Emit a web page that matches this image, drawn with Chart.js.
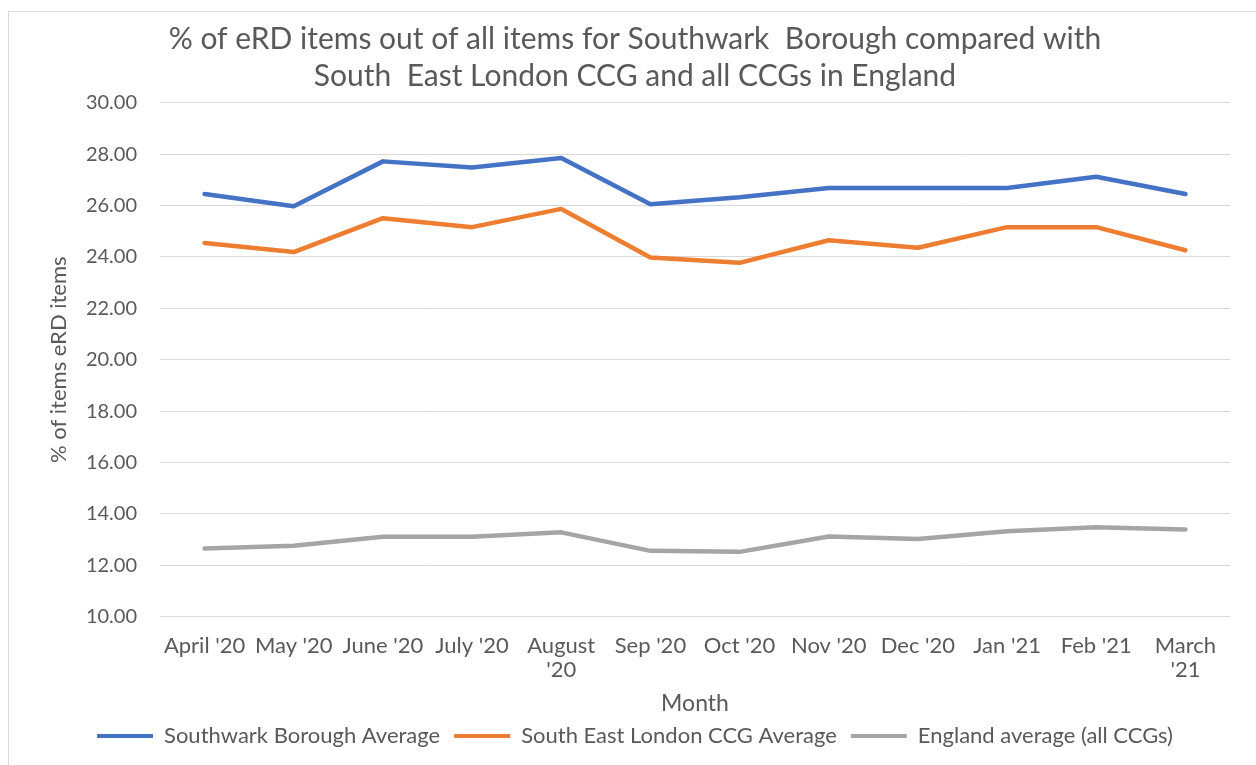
<!DOCTYPE html>
<html>
<head>
<meta charset="utf-8">
<script src="https://cdn.jsdelivr.net/npm/chart.js@4"></script>
<style>
  body { margin: 0; background: #fff; }
  #wrap { position: relative; width: 1256px; height: 765px; }
  #frame { position: absolute; left: 8px; top: 11px; right: 0; bottom: 0; border-left: 1px solid #d9d9d9; border-top: 1px solid #d9d9d9; pointer-events: none; }
</style>
</head>
<body>
<div id="wrap">
  <canvas id="grafico" width="1256" height="765"></canvas>
  <div id="frame"></div>
</div>
<script>
const months = ["April '20", "May '20", "June '20", "July '20", ["August", "'20"], "Sep '20",
  "Oct '20", "Nov '20", "Dec '20", "Jan '21", "Feb '21", ["March", "'21"]];
const southwark = [26.45, 25.97, 27.72, 27.48, 27.85, 26.05, 26.32, 26.68, 26.68, 26.68, 27.12, 26.45];
const seLondon = [24.54, 24.19, 25.51, 25.16, 25.87, 23.98, 23.77, 24.65, 24.36, 25.16, 25.16, 24.26];
const england = [12.65, 12.76, 13.11, 13.11, 13.28, 12.56, 12.52, 13.12, 13.02, 13.32, 13.48, 13.39];
const yTicks = [10, 12, 14, 16, 18, 20, 22, 24, 26, 28, 30];

const txt = '#595959';
const fam = 'Lato, "Open Sans", sans-serif';

const ctx = document.getElementById('grafico');

new Chart(ctx, {
  type: 'line',
  data: {
    labels: months,
    datasets: [{
      label: 'Southwark Borough Average',
      data: southwark,
      borderColor: '#4472C4',
      backgroundColor: '#4472C4'
    }, {
      label: 'South East London CCG Average',
      data: seLondon,
      borderColor: '#ED7D31',
      backgroundColor: '#ED7D31'
    }, {
      label: 'England average (all CCGs)',
      data: england,
      borderColor: '#A5A5A5',
      backgroundColor: '#A5A5A5'
    }]
  },
  options: {
    responsive: false,
    animation: false,
    layout: { padding: { top: 21, left: 40, right: 26, bottom: 8 } },
    elements: {
      line: { borderWidth: 4.5, tension: 0, borderJoinStyle: 'round', borderCapStyle: 'round' },
      point: { radius: 0 }
    },
    scales: {
      x: {
        offset: true,
        grid: { display: false, drawTicks: false },
        border: { display: false },
        ticks: { color: txt, font: { family: fam, size: 22, lineHeight: 1.1 }, maxRotation: 0, autoSkip: false, padding: 17 },
        title: { display: true, text: 'Month', color: txt, font: { family: fam, size: 23, lineHeight: 1 }, padding: { top: -7, bottom: -4 } }
      },
      y: {
        min: 10,
        max: 30,
        afterBuildTicks: (scale) => { scale.ticks = yTicks.map(v => ({ value: v })); },
        afterFit: (scale) => { scale.width = 120; },
        grid: { color: '#d9d9d9', drawTicks: false },
        border: { display: false },
        ticks: { color: txt, font: { family: fam, size: 20 }, padding: 23, callback: v => v.toFixed(2) },
        title: { display: true, text: '% of items eRD items', color: txt, font: { family: fam, size: 22 }, padding: { top: 6, bottom: 8 } }
      }
    },
    plugins: {
      title: {
        display: true,
        text: ['% of eRD items out of all items for Southwark  Borough compared with', 'South  East London CCG and all CCGs in England'],
        color: txt,
        font: { family: fam, size: 30, weight: 'normal', lineHeight: 1.23 },
        padding: { top: 0, bottom: 8 }
      },
      legend: {
        position: 'bottom',
        labels: {
          color: txt,
          font: { family: fam, size: 22 },
          boxWidth: 56,
          boxHeight: 4,
          padding: 14,
          generateLabels: (chart) => Chart.defaults.plugins.legend.labels.generateLabels(chart)
            .map(l => ({ ...l, lineWidth: 0, fillStyle: l.strokeStyle }))
        }
      },
      tooltip: { enabled: false }
    }
  }
});
</script>
</body>
</html>
